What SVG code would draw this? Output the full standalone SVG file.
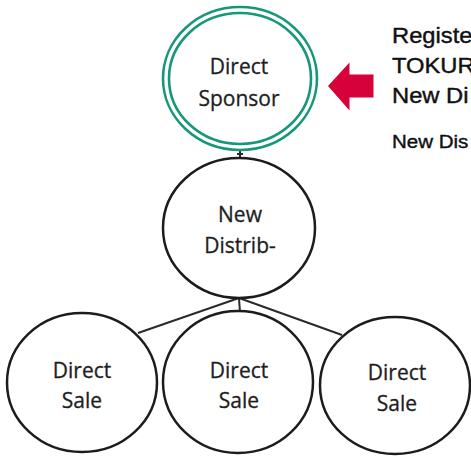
<svg xmlns="http://www.w3.org/2000/svg" width="471" height="456" viewBox="0 0 471 456">
<style>
.node{fill:#fff;stroke:#1c1c1c;stroke-width:2.5}
.ring{fill:none;stroke:#17977a;stroke-width:2.6}
.lbl{font-family:"Open Sans",sans-serif;font-size:21px;fill:#1e1e1e;stroke:#1e1e1e;stroke-width:0.3;text-anchor:middle}
.note{font-family:"Liberation Sans",Arial,sans-serif;fill:#111;stroke:#111;stroke-width:0.4}
.conn{stroke:#2a2a2a;stroke-width:2;fill:none}
</style>
<rect width="471" height="456" fill="#fff"/>
<g id="connectors">
<line class="conn" x1="240" y1="150" x2="240" y2="158"/>
<line class="conn" x1="237" y1="154" x2="243" y2="154" stroke-width="1.5"/>
<line class="conn" x1="239" y1="298" x2="138" y2="333"/>
<line class="conn" x1="239" y1="298" x2="240" y2="313"/>
<line class="conn" x1="239" y1="298" x2="342" y2="335"/>
</g>
<g id="sponsor">
<ellipse cx="240" cy="78.5" rx="77" ry="71.5" fill="#fff" stroke="none"/>
<ellipse class="ring" cx="240" cy="78.5" rx="77" ry="71.5"/>
<ellipse class="ring" cx="240" cy="78.5" rx="71" ry="65.5"/>
<text class="lbl" x="239" y="74">Direct</text>
<text class="lbl" x="239" y="106">Sponsor</text>
</g>
<g id="arrow">
<polygon points="328,86 349.5,62.5 349.5,74.5 373.5,74.5 373.5,97.5 349.5,97.5 349.5,110.5" fill="#d7003b"/>
</g>
<g id="note" transform="translate(392,0) scale(1.08,1)">
<text class="note" x="0" y="43" font-size="22">Registe</text>
<text class="note" x="0" y="73" font-size="22">TOKUR</text>
<text class="note" x="0" y="103" font-size="22">New Di</text>
<text class="note" x="0" y="148" font-size="19">New Dis</text>
</g>
<g id="newdist">
<ellipse class="node" cx="239" cy="228" rx="76" ry="70"/>
<text class="lbl" x="240" y="222">New</text>
<text class="lbl" x="240" y="253">Distrib-</text>
</g>
<g id="sale1">
<ellipse class="node" cx="82" cy="382.5" rx="75" ry="69.5"/>
<text class="lbl" x="82" y="378">Direct</text>
<text class="lbl" x="82" y="408">Sale</text>
</g>
<g id="sale2">
<ellipse class="node" cx="238" cy="382" rx="75" ry="71"/>
<text class="lbl" x="239" y="378">Direct</text>
<text class="lbl" x="239" y="408">Sale</text>
</g>
<g id="sale3">
<ellipse class="node" cx="395" cy="385.5" rx="75" ry="68.5"/>
<text class="lbl" x="397" y="380">Direct</text>
<text class="lbl" x="397" y="411">Sale</text>
</g>
</svg>
